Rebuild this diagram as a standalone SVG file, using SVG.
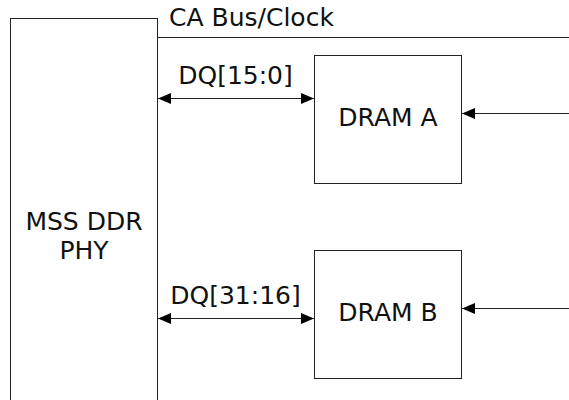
<svg xmlns="http://www.w3.org/2000/svg" width="569" height="400" viewBox="0 0 569 400">
<style>
.box{fill:#fff;stroke:#222;stroke-width:1}
.ln{fill:none;stroke:#222;stroke-width:1}
text{font-family:"DejaVu Sans",Verdana,sans-serif;font-size:25px;fill:#111}
.c{text-anchor:middle}
</style>
<defs>
<marker id="ah" viewBox="0 0 13 11" refX="13" refY="5.5" markerWidth="13" markerHeight="11" markerUnits="userSpaceOnUse" orient="auto-start-reverse">
<path d="M0,0 L13,5.5 L0,11 Z" fill="#000"/>
</marker>
</defs>
<g id="phy">
<rect class="box" x="10.5" y="18.5" width="147" height="390"/>
<text class="c" x="84" y="229.5">MSS DDR</text>
<text class="c" x="84" y="258.5">PHY</text>
</g>
<g id="dramA">
<rect class="box" x="314.5" y="55.5" width="147" height="128"/>
<text class="c" x="388" y="126">DRAM A</text>
</g>
<g id="dramB">
<rect class="box" x="314.5" y="250.5" width="147" height="128"/>
<text class="c" x="388" y="321">DRAM B</text>
</g>
<g id="connectors">
<line class="ln" x1="157.5" y1="37.5" x2="569" y2="37.5"/>
<text x="169" y="26">CA Bus/Clock</text>
<line class="ln" x1="158" y1="98.5" x2="314" y2="98.5" marker-start="url(#ah)" marker-end="url(#ah)"/>
<text class="c" x="235.5" y="84">DQ[15:0]</text>
<line class="ln" x1="158" y1="318.5" x2="314" y2="318.5" marker-start="url(#ah)" marker-end="url(#ah)"/>
<text class="c" x="235.5" y="304">DQ[31:16]</text>
<line class="ln" x1="569" y1="113.5" x2="462" y2="113.5" marker-end="url(#ah)"/>
<line class="ln" x1="569" y1="308.5" x2="462" y2="308.5" marker-end="url(#ah)"/>
</g>
</svg>
